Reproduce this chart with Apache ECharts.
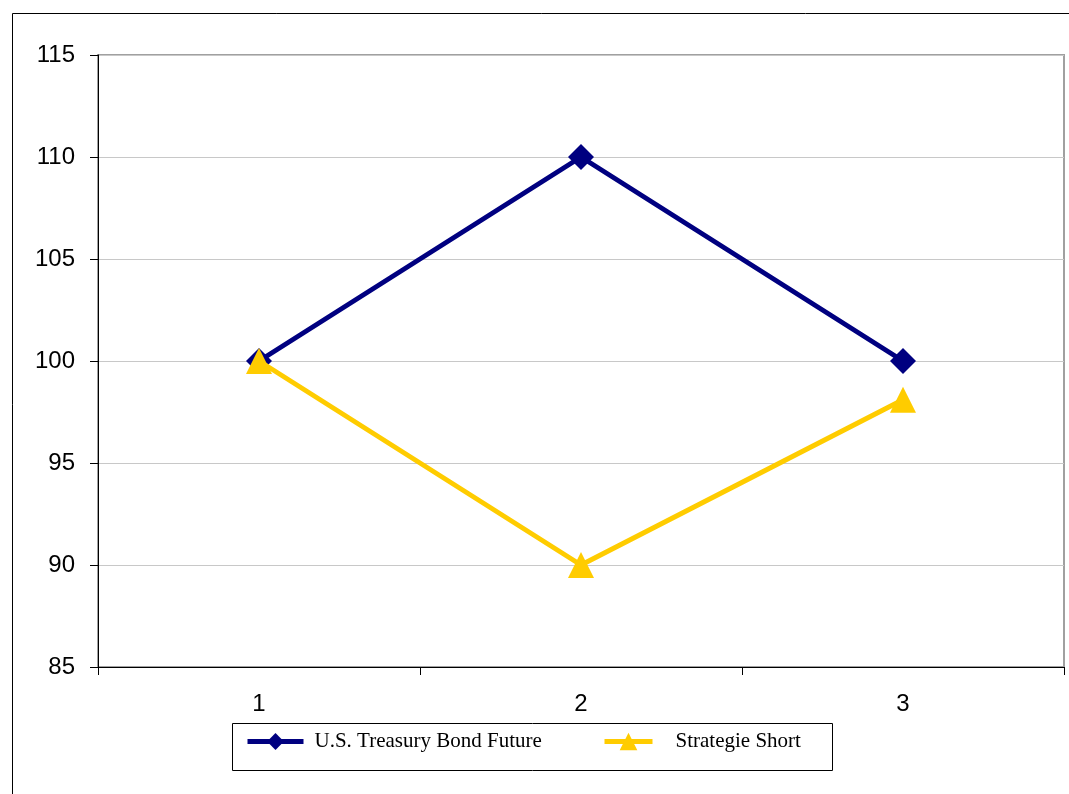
<!DOCTYPE html>
<html>
<head>
<meta charset="utf-8">
<script src="https://cdn.jsdelivr.net/npm/echarts@6/dist/echarts.min.js"></script>
<style>html,body{margin:0;padding:0;background:#fff;}#c{width:1069px;height:794px;}</style>
</head>
<body>
<div id="c"></div>
<script>
const categories = ['1', '2', '3'];
const bondFuture = [100, 110, 100];
const strategieShort = [100, 90, 98.1];
const seriesNames = ['U.S. Treasury Bond Future', 'Strategie Short'];
const yMin = 85, yMax = 115, yStep = 5;

const chart = echarts.init(document.getElementById('c'), null, {renderer: 'canvas'});
const legendFont = {fontFamily: 'Liberation Serif, Times New Roman, serif', fontSize: 21, color: '#000'};
const axisFont = {fontFamily: 'Liberation Sans, Arial, sans-serif', fontSize: 24, color: '#000'};
chart.setOption({
  animation: false,
  backgroundColor: '#fff',
  graphic: [
    {type: 'rect', shape: {x: 12.5, y: 13.5, width: 1100, height: 900}, style: {fill: 'none', stroke: '#000', lineWidth: 1}, z: 0},
    {type: 'rect', shape: {x: 232.5, y: 723.5, width: 600, height: 47}, style: {fill: '#fff', stroke: '#000', lineWidth: 1}, z: 1}
  ],
  grid: {left: 98, top: 55, width: 966, height: 612, show: true, borderColor: '#a0a0a0', borderWidth: 2, backgroundColor: 'transparent'},
  legend: [
    {data: [seriesNames[0]], left: 245, top: 731, padding: 0, itemWidth: 56, itemHeight: 21,
     textStyle: Object.assign({padding: [4, 0, 0, 6]}, legendFont), lineStyle: {width: 5}},
    {data: [seriesNames[1]], left: 602, top: 731, padding: 0, itemWidth: 48, itemHeight: 22,
     textStyle: Object.assign({padding: [4, 0, 0, 18]}, legendFont), lineStyle: {width: 5}}
  ],
  xAxis: {
    type: 'category', data: categories, boundaryGap: true,
    axisLine: {lineStyle: {color: '#000', width: 1}},
    axisTick: {show: true, length: 8, lineStyle: {color: '#000'}},
    axisLabel: Object.assign({margin: 25}, axisFont),
    splitLine: {show: false}
  },
  yAxis: {
    type: 'value', min: yMin, max: yMax, interval: yStep,
    axisLine: {show: true, lineStyle: {color: '#000', width: 1}},
    axisTick: {show: true, length: 8, lineStyle: {color: '#000'}},
    axisLabel: Object.assign({margin: 23}, axisFont),
    splitLine: {show: true, lineStyle: {color: '#c8c8c8', width: 1}}
  },
  series: [
    {name: seriesNames[0], type: 'line', data: bondFuture, symbol: 'diamond', symbolSize: 26,
     lineStyle: {color: '#000080', width: 5}, itemStyle: {color: '#000080'}, z: 3},
    {name: seriesNames[1], type: 'line', data: strategieShort, symbol: 'triangle', symbolSize: 26,
     lineStyle: {color: '#FFCC00', width: 5}, itemStyle: {color: '#FFCC00'}, z: 4}
  ]
});
</script>
</body>
</html>
